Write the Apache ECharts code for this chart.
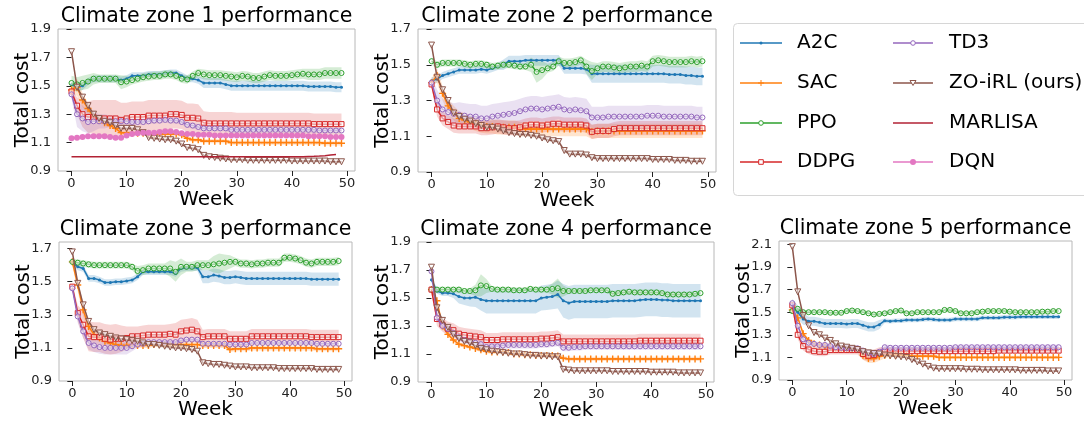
<!DOCTYPE html>
<html><head><meta charset="utf-8">
<script src="https://cdn.jsdelivr.net/npm/echarts@6/dist/echarts.min.js"></script>
<style>html,body{margin:0;padding:0;background:#fff}#c{width:1084px;height:424px}</style>
</head><body><div id="c"></div>
<script>
const WEEKS = [0,1,2,3,4,5,6,7,8,9,10,11,12,13,14,15,16,17,18,19,20,21,22,23,24,25,26,27,28,29,30,31,32,33,34,35,36,37,38,39,40,41,42,43,44,45,46,47,48,49];
const MARLISA_WEEKS = [0,1,2,3,4,5,6,7,8,9,10,11,12,13,14,15,16,17,18,19,20,21,22,23,24,25,26,27,28,29,30,31,32,33,34,35,36,37,38,39,40,41,42,43,44,45,46,47,48];
const X_TICKS = [0,10,20,30,40,50];
const Y_TICKS_19 = [0.9,1.1,1.3,1.5,1.7,1.9];
const Y_TICKS_17 = [0.9,1.1,1.3,1.5,1.7];
const Y_TICKS_21 = [0.9,1.1,1.3,1.5,1.7,1.9,2.1];
const TITLES = ['Climate zone 1 performance','Climate zone 2 performance','Climate zone 3 performance','Climate zone 4 performance','Climate zone 5 performance'];
const X_NAME = 'Week';
const Y_NAME = 'Total cost';
const LEGEND_COL1 = ['A2C','SAC','PPO','DDPG'];
const LEGEND_COL2 = ['TD3','ZO-iRL (ours)','MARLISA','DQN'];

// ---------- Zone 1 ----------
const z1_A2C = [1.51,1.49,1.50,1.53,1.55,1.55,1.55,1.55,1.55,1.54, 1.55,1.57,1.57,1.57,1.58,1.58,1.58,1.585,1.59,1.59, 1.57,1.55,1.55,1.54,1.52,1.52,1.52,1.52,1.51,1.50, 1.50,1.50,1.50,1.50,1.50,1.50,1.50,1.50,1.50,1.50, 1.50,1.50,1.50,1.495,1.495,1.495,1.495,1.495,1.49,1.49];
const z1_A2C_sd = [.03,.03,.03,.025,.025,.025,.025,.025,.025,.025, .025,.025,.025,.025,.025,.025,.025,.025,.025,.025, .025,.025,.025,.025,.035,.035,.035,.035,.035,.035, .035,.035,.035,.035,.035,.035,.035,.035,.035,.035, .035,.035,.035,.035,.035,.035,.035,.035,.035,.035];
const z1_SAC = [1.47,1.49,1.40,1.34,1.28,1.26,1.24,1.22,1.20,1.17, 1.17,1.165,1.165,1.165,1.16,1.16,1.16,1.16,1.16,1.16, 1.155,1.13,1.12,1.12,1.11,1.11,1.11,1.11,1.11,1.10, 1.10,1.10,1.10,1.10,1.10,1.10,1.10,1.10,1.10,1.10, 1.10,1.10,1.10,1.10,1.10,1.10,1.095,1.095,1.095,1.095];
const z1_SAC_sd = [.03,.06,.05,.04,.02,.015,.015,.015,.015,.015, .015,.015,.015,.015,.015,.015,.015,.015,.015,.015, .015,.015,.015,.015,.015,.015,.015,.015,.015,.015, .015,.015,.015,.015,.015,.015,.015,.015,.015,.015, .015,.015,.015,.015,.015,.015,.015,.015,.015,.015];
const z1_PPO = [1.52,1.51,1.52,1.53,1.55,1.55,1.55,1.55,1.55,1.525, 1.53,1.54,1.55,1.56,1.565,1.57,1.57,1.58,1.58,1.57, 1.55,1.545,1.57,1.59,1.58,1.575,1.575,1.575,1.57,1.565, 1.56,1.57,1.565,1.555,1.555,1.565,1.575,1.57,1.57,1.57, 1.575,1.58,1.585,1.58,1.58,1.58,1.59,1.59,1.59,1.59];
const z1_PPO_sd = [.05,.05,.05,.05,.04,.03,.03,.03,.03,.05, .04,.03,.03,.03,.03,.03,.03,.03,.03,.03, .03,.03,.03,.03,.035,.035,.035,.035,.035,.035, .035,.035,.035,.035,.035,.035,.035,.035,.035,.035, .035,.035,.035,.04,.04,.04,.04,.04,.04,.04];
const z1_DDPG = [1.46,1.36,1.30,1.28,1.28,1.27,1.27,1.27,1.27,1.26, 1.27,1.28,1.28,1.28,1.29,1.29,1.29,1.29,1.30,1.30, 1.295,1.275,1.275,1.27,1.24,1.235,1.235,1.235,1.235,1.235, 1.235,1.235,1.235,1.235,1.235,1.235,1.235,1.235,1.235,1.235, 1.235,1.235,1.235,1.235,1.23,1.23,1.23,1.23,1.23,1.23];
const z1_DDPG_sd = [.02,.06,.09,.11,.12,.13,.13,.13,.13,.12, .11,.11,.11,.11,.11,.11,.11,.11,.10,.10, .10,.10,.10,.10,.08,.08,.08,.08,.08,.08, .075,.075,.075,.075,.075,.075,.075,.075,.075,.075, .075,.075,.075,.075,.075,.075,.075,.075,.075,.075];
const z1_TD3 = [1.44,1.30,1.27,1.245,1.25,1.25,1.25,1.25,1.25,1.25, 1.25,1.245,1.245,1.245,1.25,1.255,1.255,1.26,1.255,1.255, 1.245,1.225,1.22,1.21,1.20,1.20,1.20,1.20,1.20,1.19, 1.19,1.19,1.19,1.19,1.19,1.19,1.19,1.19,1.19,1.19, 1.19,1.19,1.19,1.19,1.19,1.185,1.185,1.185,1.185,1.185];
const z1_TD3_sd = [.03,.09,.09,.08,.07,.05,.05,.04,.04,.03, .03,.02,.02,.02,.02,.02,.02,.02,.02,.02, .02,.02,.02,.02,.02,.02,.02,.02,.02,.02, .02,.02,.02,.02,.02,.02,.02,.02,.02,.02, .02,.02,.02,.02,.02,.02,.02,.02,.02,.02];
const z1_ZO = [1.74,1.49,1.42,1.36,1.30,1.27,1.25,1.24,1.22,1.20, 1.20,1.20,1.19,1.17,1.135,1.13,1.125,1.12,1.12,1.11, 1.09,1.065,1.06,1.05,1.01,1.00,0.995,0.99,0.985,0.98, 0.98,0.98,0.975,0.975,0.975,0.975,0.975,0.975,0.975,0.975, 0.97,0.97,0.97,0.97,0.97,0.97,0.97,0.965,0.965,0.965];
const z1_ZO_sd = [.01,.01,.01,.01,.01,.01,.01,.01,.01,.01, .01,.01,.01,.01,.01,.01,.01,.01,.01,.01, .01,.01,.01,.01,.01,.01,.01,.01,.01,.01, .01,.01,.01,.01,.01,.01,.01,.01,.01,.01, .01,.01,.01,.01,.01,.01,.01,.01,.01,.01];
const z1_MARLISA = [1.0,1.0,1.0,1.0,1.0,1.0,1.0,1.0,1.0,1.0, 1.0,1.0,1.0,1.0,1.0,1.0,1.0,1.0,1.0,1.0, 1.0,1.0,1.0,1.0,1.0,1.0,1.0,1.0,1.0,1.0, 1.0,1.0,1.0,1.0,1.0,1.0,1.0,1.0,1.0,1.0, 1.0,1.0,1.001,1.002,1.003,1.005,1.008,1.012,1.016];
const z1_DQN = [1.13,1.135,1.14,1.145,1.145,1.145,1.145,1.14,1.135,1.135, 1.15,1.16,1.165,1.17,1.17,1.17,1.175,1.18,1.18,1.175, 1.165,1.16,1.16,1.155,1.155,1.155,1.15,1.15,1.15,1.15, 1.15,1.15,1.15,1.15,1.15,1.15,1.15,1.15,1.15,1.15, 1.15,1.15,1.15,1.145,1.145,1.145,1.145,1.14,1.14,1.14];

// ---------- Zone 2 ----------
const z2_A2C = [1.41,1.42,1.44,1.45,1.46,1.47,1.47,1.47,1.47,1.475, 1.47,1.48,1.49,1.50,1.52,1.52,1.52,1.525,1.525,1.525, 1.525,1.525,1.525,1.525,1.48,1.48,1.48,1.48,1.475,1.45, 1.45,1.45,1.45,1.45,1.45,1.45,1.45,1.45,1.45,1.45, 1.45,1.45,1.45,1.445,1.445,1.445,1.44,1.44,1.435,1.435];
const z2_A2C_sd = [.02,.02,.02,.02,.02,.02,.02,.02,.02,.02, .02,.02,.02,.03,.03,.03,.03,.03,.03,.03, .03,.03,.03,.03,.03,.03,.03,.03,.03,.05, .05,.05,.05,.05,.05,.05,.05,.05,.05,.05, .05,.05,.05,.05,.05,.05,.05,.05,.05,.05];
const z2_SAC = [1.40,1.44,1.34,1.27,1.23,1.20,1.19,1.18,1.17,1.16, 1.155,1.155,1.15,1.15,1.15,1.15,1.14,1.14,1.14,1.14, 1.14,1.14,1.14,1.14,1.14,1.14,1.14,1.14,1.14,1.125, 1.13,1.13,1.13,1.13,1.13,1.13,1.13,1.13,1.13,1.13, 1.13,1.13,1.13,1.13,1.13,1.13,1.13,1.13,1.13,1.13];
const z2_SAC_sd = [.02,.04,.04,.04,.04,.04,.04,.04,.04,.04, .04,.04,.04,.04,.04,.04,.04,.04,.04,.04, .04,.04,.04,.04,.04,.04,.04,.04,.04,.04, .04,.04,.04,.04,.04,.04,.04,.04,.04,.04, .04,.04,.04,.04,.04,.04,.04,.04,.04,.04];
const z2_PPO = [1.52,1.50,1.51,1.51,1.51,1.51,1.505,1.50,1.505,1.505, 1.50,1.49,1.495,1.50,1.50,1.495,1.49,1.49,1.50,1.46, 1.47,1.48,1.49,1.52,1.51,1.51,1.515,1.525,1.49,1.465, 1.48,1.49,1.49,1.485,1.48,1.485,1.49,1.49,1.495,1.49, 1.52,1.525,1.52,1.515,1.515,1.515,1.515,1.52,1.515,1.52];
const z2_PPO_sd = [.02,.02,.02,.02,.02,.02,.02,.02,.02,.02, .02,.02,.02,.02,.02,.02,.02,.02,.04,.06, .05,.025,.025,.025,.025,.025,.025,.025,.04,.05, .03,.03,.03,.03,.03,.03,.03,.03,.03,.03, .03,.03,.03,.03,.03,.03,.03,.03,.03,.03];
const z2_DDPG = [1.39,1.25,1.20,1.18,1.16,1.155,1.155,1.155,1.155,1.145, 1.145,1.15,1.155,1.15,1.145,1.145,1.15,1.16,1.165,1.165, 1.16,1.165,1.17,1.17,1.165,1.165,1.165,1.165,1.16,1.125, 1.13,1.13,1.13,1.14,1.145,1.145,1.145,1.145,1.145,1.145, 1.145,1.145,1.145,1.145,1.145,1.145,1.145,1.145,1.145,1.145];
const z2_DDPG_sd = [.02,.04,.04,.04,.04,.04,.04,.04,.04,.04, .04,.04,.04,.04,.04,.04,.04,.04,.04,.04, .04,.04,.04,.04,.04,.04,.04,.04,.04,.04, .04,.04,.04,.04,.04,.04,.04,.04,.04,.04, .04,.04,.04,.04,.04,.04,.04,.04,.04,.04];
const z2_TD3 = [1.40,1.30,1.25,1.235,1.225,1.22,1.215,1.21,1.21,1.20, 1.20,1.21,1.215,1.22,1.225,1.23,1.24,1.25,1.255,1.255, 1.25,1.255,1.26,1.265,1.25,1.245,1.25,1.245,1.24,1.205, 1.205,1.205,1.21,1.21,1.21,1.21,1.21,1.21,1.21,1.215, 1.215,1.215,1.21,1.21,1.21,1.21,1.21,1.21,1.205,1.205];
const z2_TD3_sd = [.03,.06,.06,.06,.06,.07,.07,.07,.07,.07, .07,.07,.07,.07,.07,.07,.07,.07,.07,.07, .07,.07,.07,.07,.07,.07,.07,.07,.07,.06, .06,.06,.06,.06,.06,.06,.06,.06,.06,.06, .06,.06,.06,.06,.06,.06,.06,.06,.06,.06];
const z2_ZO = [1.61,1.43,1.36,1.30,1.23,1.21,1.195,1.185,1.17,1.16, 1.15,1.15,1.14,1.13,1.12,1.115,1.11,1.11,1.105,1.10, 1.09,1.08,1.075,1.07,1.02,1.00,1.00,1.00,0.995,0.98, 0.975,0.975,0.975,0.975,0.975,0.975,0.975,0.975,0.975,0.975, 0.97,0.97,0.97,0.97,0.965,0.965,0.965,0.96,0.96,0.96];
const z2_ZO_sd = [.01,.01,.01,.01,.01,.01,.01,.01,.01,.01, .01,.01,.01,.01,.01,.01,.01,.01,.01,.01, .01,.01,.01,.01,.01,.01,.01,.01,.01,.01, .01,.01,.01,.01,.01,.01,.01,.01,.01,.01, .01,.01,.01,.01,.01,.01,.01,.01,.01,.01];

// ---------- Zone 3 ----------
const z3_A2C = [1.62,1.59,1.58,1.52,1.52,1.51,1.495,1.495,1.50,1.50, 1.505,1.51,1.53,1.56,1.56,1.56,1.56,1.56,1.56,1.55, 1.58,1.585,1.585,1.585,1.53,1.53,1.54,1.535,1.525,1.525, 1.53,1.525,1.52,1.52,1.52,1.52,1.52,1.52,1.52,1.52, 1.52,1.52,1.52,1.52,1.515,1.515,1.515,1.515,1.515,1.515];
const z3_A2C_sd = [.02,.02,.02,.02,.02,.02,.02,.02,.02,.02, .02,.02,.02,.02,.02,.02,.02,.02,.02,.02, .02,.02,.02,.02,.04,.04,.04,.04,.04,.04, .04,.04,.04,.04,.04,.04,.04,.04,.04,.04, .04,.04,.04,.04,.04,.04,.04,.04,.04,.04];
const z3_SAC = [1.62,1.48,1.33,1.23,1.18,1.16,1.14,1.13,1.12,1.115, 1.115,1.115,1.115,1.115,1.115,1.12,1.12,1.12,1.12,1.12, 1.12,1.12,1.12,1.12,1.115,1.115,1.115,1.115,1.115,1.09, 1.095,1.095,1.095,1.10,1.10,1.10,1.10,1.10,1.10,1.10, 1.10,1.10,1.10,1.10,1.10,1.095,1.095,1.095,1.095,1.095];
const z3_SAC_sd = [.02,.04,.04,.04,.03,.015,.015,.015,.015,.015, .015,.015,.015,.015,.015,.015,.015,.015,.015,.015, .015,.015,.015,.015,.015,.015,.015,.015,.015,.015, .015,.015,.015,.015,.015,.015,.015,.015,.015,.015, .015,.015,.015,.015,.015,.015,.015,.015,.015,.015];
const z3_PPO = [1.62,1.615,1.61,1.605,1.60,1.60,1.60,1.60,1.60,1.60, 1.60,1.59,1.565,1.57,1.58,1.58,1.58,1.58,1.58,1.56, 1.59,1.59,1.59,1.60,1.60,1.60,1.605,1.61,1.615,1.62, 1.62,1.61,1.61,1.605,1.61,1.61,1.615,1.615,1.615,1.645, 1.645,1.64,1.63,1.615,1.61,1.62,1.62,1.62,1.62,1.625];
const z3_PPO_sd = [.02,.02,.02,.02,.02,.02,.02,.02,.02,.02, .02,.02,.03,.03,.03,.03,.03,.03,.05,.06, .05,.03,.03,.03,.03,.03,.05,.06,.05,.04, .025,.025,.025,.025,.025,.025,.025,.025,.025,.025, .025,.025,.025,.025,.025,.025,.025,.025,.025,.025];
const z3_DDPG = [1.47,1.31,1.24,1.17,1.165,1.165,1.155,1.15,1.155,1.155, 1.16,1.17,1.17,1.175,1.18,1.18,1.18,1.18,1.185,1.18, 1.20,1.205,1.21,1.20,1.165,1.17,1.17,1.17,1.17,1.155, 1.155,1.155,1.155,1.17,1.17,1.17,1.17,1.17,1.17,1.17, 1.17,1.17,1.17,1.17,1.165,1.165,1.165,1.165,1.165,1.165];
const z3_DDPG_sd = [.02,.05,.08,.09,.09,.09,.09,.09,.09,.08, .07,.06,.06,.06,.06,.06,.06,.06,.06,.07, .07,.07,.07,.07,.045,.045,.045,.045,.045,.045, .045,.045,.045,.045,.045,.045,.045,.045,.045,.045, .045,.045,.045,.045,.045,.045,.045,.045,.045,.045];
const z3_TD3 = [1.46,1.29,1.20,1.13,1.115,1.105,1.10,1.10,1.10,1.10, 1.10,1.11,1.12,1.125,1.135,1.135,1.135,1.135,1.135,1.135, 1.145,1.15,1.15,1.15,1.125,1.125,1.125,1.125,1.125,1.12, 1.12,1.12,1.12,1.13,1.13,1.13,1.13,1.13,1.13,1.13, 1.13,1.13,1.13,1.13,1.13,1.125,1.125,1.125,1.125,1.125];
const z3_TD3_sd = [.02,.04,.04,.04,.04,.04,.04,.04,.04,.04, .04,.03,.02,.012,.012,.012,.012,.012,.012,.012, .012,.012,.012,.012,.012,.012,.012,.012,.012,.012, .012,.012,.012,.012,.012,.012,.012,.012,.012,.012, .012,.012,.012,.012,.012,.012,.012,.012,.012,.012];
const z3_ZO = [1.68,1.49,1.36,1.26,1.21,1.19,1.18,1.17,1.16,1.155, 1.15,1.145,1.14,1.13,1.12,1.12,1.115,1.11,1.105,1.10, 1.10,1.095,1.09,1.08,1.01,1.005,1.00,1.00,0.995,0.99, 0.985,0.985,0.985,0.98,0.98,0.98,0.98,0.98,0.975,0.975, 0.975,0.975,0.975,0.975,0.975,0.97,0.97,0.97,0.97,0.97];
const z3_ZO_sd = z1_ZO_sd;

// ---------- Zone 4 ----------
const z4_A2C = [1.63,1.55,1.535,1.535,1.53,1.51,1.50,1.50,1.505,1.49, 1.48,1.48,1.48,1.48,1.48,1.48,1.48,1.48,1.48,1.48, 1.50,1.505,1.51,1.525,1.48,1.465,1.475,1.475,1.475,1.475, 1.475,1.475,1.475,1.48,1.48,1.48,1.48,1.48,1.485,1.49, 1.49,1.49,1.485,1.485,1.48,1.48,1.48,1.48,1.48,1.48];
const z4_A2C_sd = [.02,.02,.02,.02,.03,.05,.05,.06,.07,.08, .09,.09,.09,.09,.09,.09,.09,.09,.09,.09, .09,.09,.09,.10,.12,.12,.12,.12,.12,.12, .12,.12,.12,.12,.12,.12,.12,.12,.12,.12, .12,.12,.12,.12,.12,.12,.12,.12,.12,.12];
const z4_SAC = [1.56,1.48,1.30,1.24,1.20,1.17,1.16,1.15,1.14,1.13, 1.12,1.115,1.115,1.115,1.11,1.10,1.10,1.095,1.095,1.09, 1.09,1.09,1.09,1.085,1.07,1.065,1.065,1.065,1.065,1.065, 1.065,1.065,1.065,1.065,1.065,1.065,1.065,1.065,1.065,1.065, 1.065,1.065,1.065,1.065,1.065,1.065,1.065,1.065,1.065,1.065];
const z4_SAC_sd = [.015,.015,.015,.015,.015,.015,.015,.015,.015,.015, .015,.015,.015,.015,.015,.015,.015,.015,.015,.015, .015,.015,.015,.015,.015,.015,.015,.015,.015,.015, .015,.015,.015,.015,.015,.015,.015,.015,.015,.015, .015,.015,.015,.015,.015,.015,.015,.015,.015,.015];
const z4_PPO = [1.56,1.56,1.56,1.56,1.56,1.56,1.55,1.55,1.555,1.59, 1.585,1.565,1.56,1.56,1.56,1.555,1.555,1.555,1.565,1.56, 1.56,1.56,1.565,1.57,1.55,1.55,1.55,1.55,1.55,1.555, 1.555,1.555,1.555,1.53,1.535,1.54,1.545,1.54,1.54,1.54, 1.54,1.54,1.535,1.525,1.525,1.525,1.525,1.525,1.53,1.535];
const z4_PPO_sd = [.02,.02,.02,.02,.02,.02,.02,.02,.04,.08, .05,.02,.02,.02,.02,.02,.02,.02,.02,.02, .02,.02,.04,.07,.04,.02,.02,.02,.02,.02, .02,.02,.02,.02,.02,.02,.02,.02,.02,.02, .02,.02,.02,.02,.02,.02,.02,.02,.02,.02];
const z4_DDPG = [1.56,1.35,1.31,1.28,1.27,1.245,1.235,1.23,1.225,1.22, 1.20,1.20,1.20,1.205,1.205,1.205,1.205,1.205,1.205,1.205, 1.21,1.21,1.215,1.22,1.19,1.19,1.19,1.19,1.19,1.19, 1.19,1.19,1.19,1.19,1.19,1.19,1.19,1.19,1.195,1.195, 1.195,1.195,1.195,1.195,1.195,1.195,1.195,1.195,1.195,1.195];
const z4_DDPG_sd = [.01,.05,.05,.05,.05,.05,.05,.05,.05,.05, .05,.05,.05,.05,.05,.05,.05,.05,.05,.05, .05,.05,.05,.05,.05,.05,.05,.05,.05,.05, .05,.05,.05,.05,.05,.05,.05,.05,.05,.05, .05,.05,.05,.05,.05,.05,.05,.05,.05,.05];
const z4_TD3 = [1.69,1.36,1.30,1.28,1.25,1.22,1.20,1.19,1.18,1.17, 1.15,1.155,1.155,1.16,1.165,1.165,1.165,1.165,1.165,1.165, 1.17,1.17,1.175,1.18,1.145,1.145,1.15,1.15,1.155,1.155, 1.155,1.155,1.155,1.155,1.155,1.155,1.155,1.155,1.155,1.155, 1.155,1.155,1.155,1.155,1.155,1.155,1.155,1.155,1.155,1.155];
const z4_TD3_sd = [.01,.025,.025,.025,.025,.025,.025,.025,.025,.025, .025,.025,.025,.025,.025,.025,.025,.025,.025,.025, .025,.025,.025,.025,.025,.025,.025,.025,.025,.025, .025,.025,.025,.025,.025,.025,.025,.025,.025,.025, .025,.025,.025,.025,.025,.025,.025,.025,.025,.025];
const z4_ZO = [1.72,1.43,1.34,1.29,1.24,1.21,1.19,1.18,1.16,1.14, 1.13,1.12,1.115,1.11,1.105,1.10,1.10,1.095,1.09,1.09, 1.085,1.085,1.08,1.08,0.99,0.985,0.98,0.98,0.98,0.98, 0.98,0.98,0.98,0.975,0.975,0.975,0.975,0.975,0.975,0.975, 0.97,0.97,0.97,0.97,0.97,0.965,0.965,0.965,0.965,0.965];
const z4_ZO_sd = z1_ZO_sd;

// ---------- Zone 5 ----------
const z5_A2C = [1.56,1.50,1.44,1.42,1.42,1.41,1.40,1.40,1.40,1.40, 1.395,1.40,1.40,1.385,1.37,1.37,1.39,1.425,1.42,1.425, 1.425,1.43,1.43,1.43,1.435,1.44,1.435,1.43,1.43,1.43, 1.44,1.44,1.44,1.44,1.44,1.45,1.45,1.45,1.45,1.455, 1.455,1.455,1.46,1.46,1.46,1.46,1.46,1.46,1.46,1.46];
const z5_A2C_sd = [.06,.06,.05,.04,.04,.04,.04,.04,.04,.04, .04,.04,.04,.04,.04,.04,.04,.02,.02,.02, .02,.02,.02,.02,.02,.02,.02,.02,.02,.02, .02,.02,.02,.02,.02,.02,.02,.02,.02,.02, .02,.02,.02,.02,.02,.02,.02,.02,.02,.02];
const z5_SAC = [1.52,1.45,1.31,1.25,1.22,1.21,1.20,1.19,1.18,1.175, 1.17,1.17,1.17,1.12,1.09,1.09,1.11,1.12,1.12,1.12, 1.12,1.12,1.11,1.11,1.11,1.11,1.11,1.10,1.10,1.10, 1.10,1.10,1.10,1.10,1.10,1.10,1.10,1.10,1.10,1.10, 1.10,1.10,1.10,1.10,1.10,1.10,1.10,1.10,1.10,1.10];
const z5_SAC_sd = [.02,.02,.02,.02,.02,.02,.02,.02,.02,.02, .02,.02,.02,.04,.04,.04,.04,.03,.015,.015, .015,.015,.015,.015,.015,.015,.015,.015,.015,.015, .015,.015,.015,.015,.015,.015,.015,.015,.015,.015, .015,.015,.015,.015,.015,.015,.015,.015,.015,.015];
const z5_PPO = [1.51,1.53,1.50,1.50,1.50,1.50,1.50,1.495,1.495,1.495, 1.51,1.515,1.51,1.50,1.49,1.48,1.485,1.49,1.50,1.51, 1.515,1.49,1.49,1.50,1.50,1.50,1.50,1.50,1.52,1.52, 1.51,1.49,1.49,1.49,1.50,1.505,1.51,1.51,1.51,1.51, 1.505,1.50,1.50,1.50,1.50,1.50,1.505,1.505,1.51,1.51];
const z5_PPO_sd = [.02,.02,.02,.02,.02,.02,.02,.02,.02,.02, .02,.02,.02,.02,.02,.02,.02,.02,.02,.02, .02,.02,.02,.02,.02,.02,.02,.02,.02,.02, .02,.02,.02,.02,.02,.02,.02,.02,.02,.02, .02,.02,.02,.02,.02,.02,.02,.02,.02,.02];
const z5_DDPG = [1.56,1.30,1.20,1.17,1.155,1.15,1.15,1.165,1.165,1.165, 1.165,1.165,1.165,1.13,1.115,1.12,1.14,1.155,1.155,1.155, 1.155,1.155,1.155,1.155,1.155,1.155,1.155,1.155,1.155,1.155, 1.155,1.155,1.155,1.155,1.155,1.155,1.155,1.155,1.16,1.16, 1.16,1.16,1.16,1.16,1.16,1.16,1.16,1.16,1.16,1.16];
const z5_DDPG_sd = [.03,.04,.04,.04,.04,.04,.04,.04,.04,.04, .04,.04,.04,.05,.05,.05,.05,.04,.02,.02, .02,.02,.02,.02,.02,.02,.02,.02,.02,.02, .02,.02,.02,.02,.02,.02,.02,.02,.02,.02, .02,.02,.02,.02,.02,.02,.02,.02,.02,.02];
const z5_TD3 = [1.58,1.38,1.26,1.23,1.22,1.21,1.21,1.20,1.19,1.185, 1.18,1.18,1.18,1.16,1.14,1.13,1.15,1.19,1.185,1.185, 1.185,1.185,1.185,1.185,1.185,1.185,1.185,1.185,1.185,1.185, 1.19,1.19,1.19,1.19,1.19,1.19,1.19,1.19,1.19,1.19, 1.19,1.19,1.19,1.19,1.19,1.19,1.19,1.19,1.19,1.19];
const z5_TD3_sd = [.03,.025,.025,.025,.025,.025,.025,.025,.025,.025, .025,.025,.025,.025,.025,.025,.025,.025,.025,.025, .025,.025,.025,.025,.025,.025,.025,.025,.025,.025, .025,.025,.025,.025,.025,.025,.025,.025,.025,.025, .025,.025,.025,.025,.025,.025,.025,.025,.025,.025];
const z5_ZO = [2.08,1.68,1.47,1.38,1.32,1.30,1.27,1.25,1.22,1.20, 1.19,1.18,1.17,1.15,1.14,1.135,1.13,1.12,1.115,1.11, 1.105,1.10,1.08,1.06,1.04,1.02,1.005,1.00,1.00,1.00, 1.00,1.00,0.995,0.995,0.995,0.99,0.99,0.99,0.99,0.99, 0.99,0.99,0.985,0.985,0.985,0.985,0.985,0.98,0.98,0.98];
const z5_ZO_sd = z1_ZO_sd;

// ---------- styling / layout ----------
const FONT = 'DejaVu Sans';
const PLUS = 'path://M4,0H6V4H10V6H6V10H4V6H0V4H4Z';
const STYLE = {
  'A2C': {color:'#1f77b4', symbol:'circle', size:3, hollow:false, z:3},
  'SAC': {color:'#ff7f0e', symbol:PLUS, size:7, hollow:false, z:4},
  'PPO': {color:'#2ca02c', symbol:'circle', size:5, hollow:true, z:5},
  'DDPG': {color:'#d62728', symbol:'rect', size:5, hollow:true, z:6},
  'TD3': {color:'#9467bd', symbol:'circle', size:5, hollow:true, z:7},
  'ZO-iRL (ours)': {color:'#8c564b', symbol:'triangle', size:6, rotate:180, hollow:true, z:8},
  'MARLISA': {color:'#b22234', symbol:'none', size:0, hollow:false, z:9},
  'DQN': {color:'#e377c2', symbol:'circle', size:6, hollow:false, z:10}
};
const ZONES = [
  {title:TITLES[0], yMin:0.9, yMax:1.9, yTicks:Y_TICKS_19, grid:{left:58,top:29,width:297,height:142}, yNameX:23,
   lines:[['A2C',z1_A2C,z1_A2C_sd],['SAC',z1_SAC,z1_SAC_sd],['PPO',z1_PPO,z1_PPO_sd],['DDPG',z1_DDPG,z1_DDPG_sd],['TD3',z1_TD3,z1_TD3_sd],['ZO-iRL (ours)',z1_ZO,z1_ZO_sd],['MARLISA',z1_MARLISA,null],['DQN',z1_DQN,null]]},
  {title:TITLES[1], yMin:0.9, yMax:1.7, yTicks:Y_TICKS_17, grid:{left:418,top:29,width:298,height:143}, yNameX:383,
   lines:[['A2C',z2_A2C,z2_A2C_sd],['SAC',z2_SAC,z2_SAC_sd],['PPO',z2_PPO,z2_PPO_sd],['DDPG',z2_DDPG,z2_DDPG_sd],['TD3',z2_TD3,z2_TD3_sd],['ZO-iRL (ours)',z2_ZO,z2_ZO_sd]]},
  {title:TITLES[2], yMin:0.9, yMax:1.74, yTicks:Y_TICKS_17, grid:{left:59,top:242,width:293,height:139}, yNameX:24,
   lines:[['A2C',z3_A2C,z3_A2C_sd],['SAC',z3_SAC,z3_SAC_sd],['PPO',z3_PPO,z3_PPO_sd],['DDPG',z3_DDPG,z3_DDPG_sd],['TD3',z3_TD3,z3_TD3_sd],['ZO-iRL (ours)',z3_ZO,z3_ZO_sd]]},
  {title:TITLES[3], yMin:0.9, yMax:1.9, yTicks:Y_TICKS_19, grid:{left:418,top:242,width:296,height:140}, yNameX:383,
   lines:[['A2C',z4_A2C,z4_A2C_sd],['SAC',z4_SAC,z4_SAC_sd],['PPO',z4_PPO,z4_PPO_sd],['DDPG',z4_DDPG,z4_DDPG_sd],['TD3',z4_TD3,z4_TD3_sd],['ZO-iRL (ours)',z4_ZO,z4_ZO_sd]]},
  {title:TITLES[4], yMin:0.9, yMax:2.13, yTicks:Y_TICKS_21, grid:{left:779,top:241,width:293,height:139}, yNameX:744,
   lines:[['A2C',z5_A2C,z5_A2C_sd],['SAC',z5_SAC,z5_SAC_sd],['PPO',z5_PPO,z5_PPO_sd],['DDPG',z5_DDPG,z5_DDPG_sd],['TD3',z5_TD3,z5_TD3_sd],['ZO-iRL (ours)',z5_ZO,z5_ZO_sd]]}
];

function rgba(hex, a){
  const n = parseInt(hex.slice(1),16);
  return 'rgba('+((n>>16)&255)+','+((n>>8)&255)+','+(n&255)+','+a+')';
}

const grids=[], xAxes=[], yAxes=[], series=[], graphics=[];
ZONES.forEach((zn, gi) => {
  grids.push(Object.assign({show:true, borderColor:'#b8b8b8', borderWidth:1, backgroundColor:'rgba(0,0,0,0)'}, zn.grid));
  xAxes.push({type:'value', gridIndex:gi, min:-2.45, max:51.45,
    axisLine:{show:false}, splitLine:{show:false},
    axisTick:{show:true, length:5, lineStyle:{color:'#222', width:1}, customValues:X_TICKS},
    axisLabel:{show:true, customValues:X_TICKS, margin:6, fontFamily:FONT, fontSize:13, color:'#222'}});
  yAxes.push({type:'value', gridIndex:gi, min:zn.yMin, max:zn.yMax,
    axisLine:{show:false}, splitLine:{show:false},
    axisTick:{show:true, length:5, lineStyle:{color:'#222', width:1}, customValues:zn.yTicks},
    axisLabel:{show:true, customValues:zn.yTicks, margin:7, fontFamily:FONT, fontSize:13, color:'#222', formatter:v=>Number(v).toFixed(1)}});
  zn.lines.forEach(([name, mean, sd]) => {
    const st = STYLE[name];
    const xs = name === 'MARLISA' ? MARLISA_WEEKS : WEEKS;
    if (sd) {
      series.push({type:'custom', coordinateSystem:'cartesian2d', xAxisIndex:gi, yAxisIndex:gi, silent:true, z:1, clip:true,
        data:[[xs[0], mean[0]]],
        renderItem:function(params, api){
          const pts=[];
          for (let i=0;i<mean.length;i++) pts.push(api.coord([xs[i], mean[i]+sd[i]]));
          for (let i=mean.length-1;i>=0;i--) pts.push(api.coord([xs[i], mean[i]-sd[i]]));
          return {type:'polygon', shape:{points:pts}, style:{fill:rgba(st.color,0.2), stroke:null}};
        }});
    }
    series.push({type:'line', name:name, xAxisIndex:gi, yAxisIndex:gi, z:st.z,
      data: mean.map((v,i)=>[xs[i], v]),
      showSymbol: st.symbol !== 'none', symbol: st.symbol, symbolSize: st.size, symbolRotate: st.rotate || 0,
      lineStyle:{color:st.color, width:1.5},
      itemStyle: st.hollow ? {color:'rgba(255,255,255,0.55)', borderColor:st.color, borderWidth:1} : {color:st.color, borderWidth:0},
      emphasis:{disabled:true}, clip:true});
  });
  const cx = zn.grid.left + zn.grid.width/2;
  const cy = zn.grid.top + zn.grid.height/2;
  graphics.push({type:'text', x:cx, y:zn.grid.top - 12, style:{text:zn.title, font:'20.5px "'+FONT+'"', fill:'#000', textAlign:'center', textVerticalAlign:'middle'}});
  graphics.push({type:'text', x:cx, y:zn.grid.top + zn.grid.height + 29, style:{text:X_NAME, font:'20px "'+FONT+'"', fill:'#000', textAlign:'center', textVerticalAlign:'middle'}});
  graphics.push({type:'text', x:zn.yNameX, y:cy, rotation:Math.PI/2, style:{text:Y_NAME, font:'20px "'+FONT+'"', fill:'#000', textAlign:'center', textVerticalAlign:'middle'}});
});

// ---------- legend (drawn as graphic: line + marker + label) ----------
graphics.push({type:'rect', z:-10, shape:{x:733.5, y:23.5, width:380, height:172, r:4}, style:{fill:'#fff', stroke:'#d6d6d6', lineWidth:1}});
function legendMarker(name, cx, cy){
  const st = STYLE[name];
  const fill = st.hollow ? '#ffffff' : st.color;
  const stroke = st.color;
  if (name === 'A2C') return {type:'circle', shape:{cx:cx, cy:cy, r:1.5}, style:{fill:stroke}};
  if (name === 'SAC') return {type:'group', children:[
      {type:'line', shape:{x1:cx-3, y1:cy, x2:cx+3, y2:cy}, style:{stroke:stroke, lineWidth:1}},
      {type:'line', shape:{x1:cx, y1:cy-3, x2:cx, y2:cy+3}, style:{stroke:stroke, lineWidth:1}}]};
  if (name === 'PPO' || name === 'TD3') return {type:'circle', shape:{cx:cx, cy:cy, r:2.3}, style:{fill:fill, stroke:stroke, lineWidth:1}};
  if (name === 'DDPG') return {type:'rect', shape:{x:cx-2.3, y:cy-2.3, width:4.6, height:4.6}, style:{fill:fill, stroke:stroke, lineWidth:1}};
  if (name === 'ZO-iRL (ours)') return {type:'polygon', shape:{points:[[cx-3,cy-2.5],[cx+3,cy-2.5],[cx,cy+2.5]]}, style:{fill:fill, stroke:stroke, lineWidth:1}};
  if (name === 'DQN') return {type:'circle', shape:{cx:cx, cy:cy, r:3}, style:{fill:stroke}};
  return null;
}
const LEG_ROWS_Y = [43, 83, 123, 162];
[[LEGEND_COL1, 740, 782, 797], [LEGEND_COL2, 893, 933, 949]].forEach(([names, x1, x2, tx]) => {
  names.forEach((name, r) => {
    const y = LEG_ROWS_Y[r];
    graphics.push({type:'line', z:5, shape:{x1:x1, y1:y, x2:x2, y2:y}, style:{stroke:STYLE[name].color, lineWidth:1.5}});
    const mk = legendMarker(name, (x1+x2)/2, y);
    if (mk) { mk.z = 6; graphics.push(mk); }
    graphics.push({type:'text', z:6, x:tx, y:y, style:{text:name, font:'20px "'+FONT+'"', fill:'#000', textAlign:'left', textVerticalAlign:'middle'}});
  });
});

const chart = echarts.init(document.getElementById('c'), null, {renderer:'canvas'});
chart.setOption({
  animation:false,
  backgroundColor:'#fff',
  grid:grids, xAxis:xAxes, yAxis:yAxes, series:series,
  graphic:graphics
});
</script>
</body></html>
